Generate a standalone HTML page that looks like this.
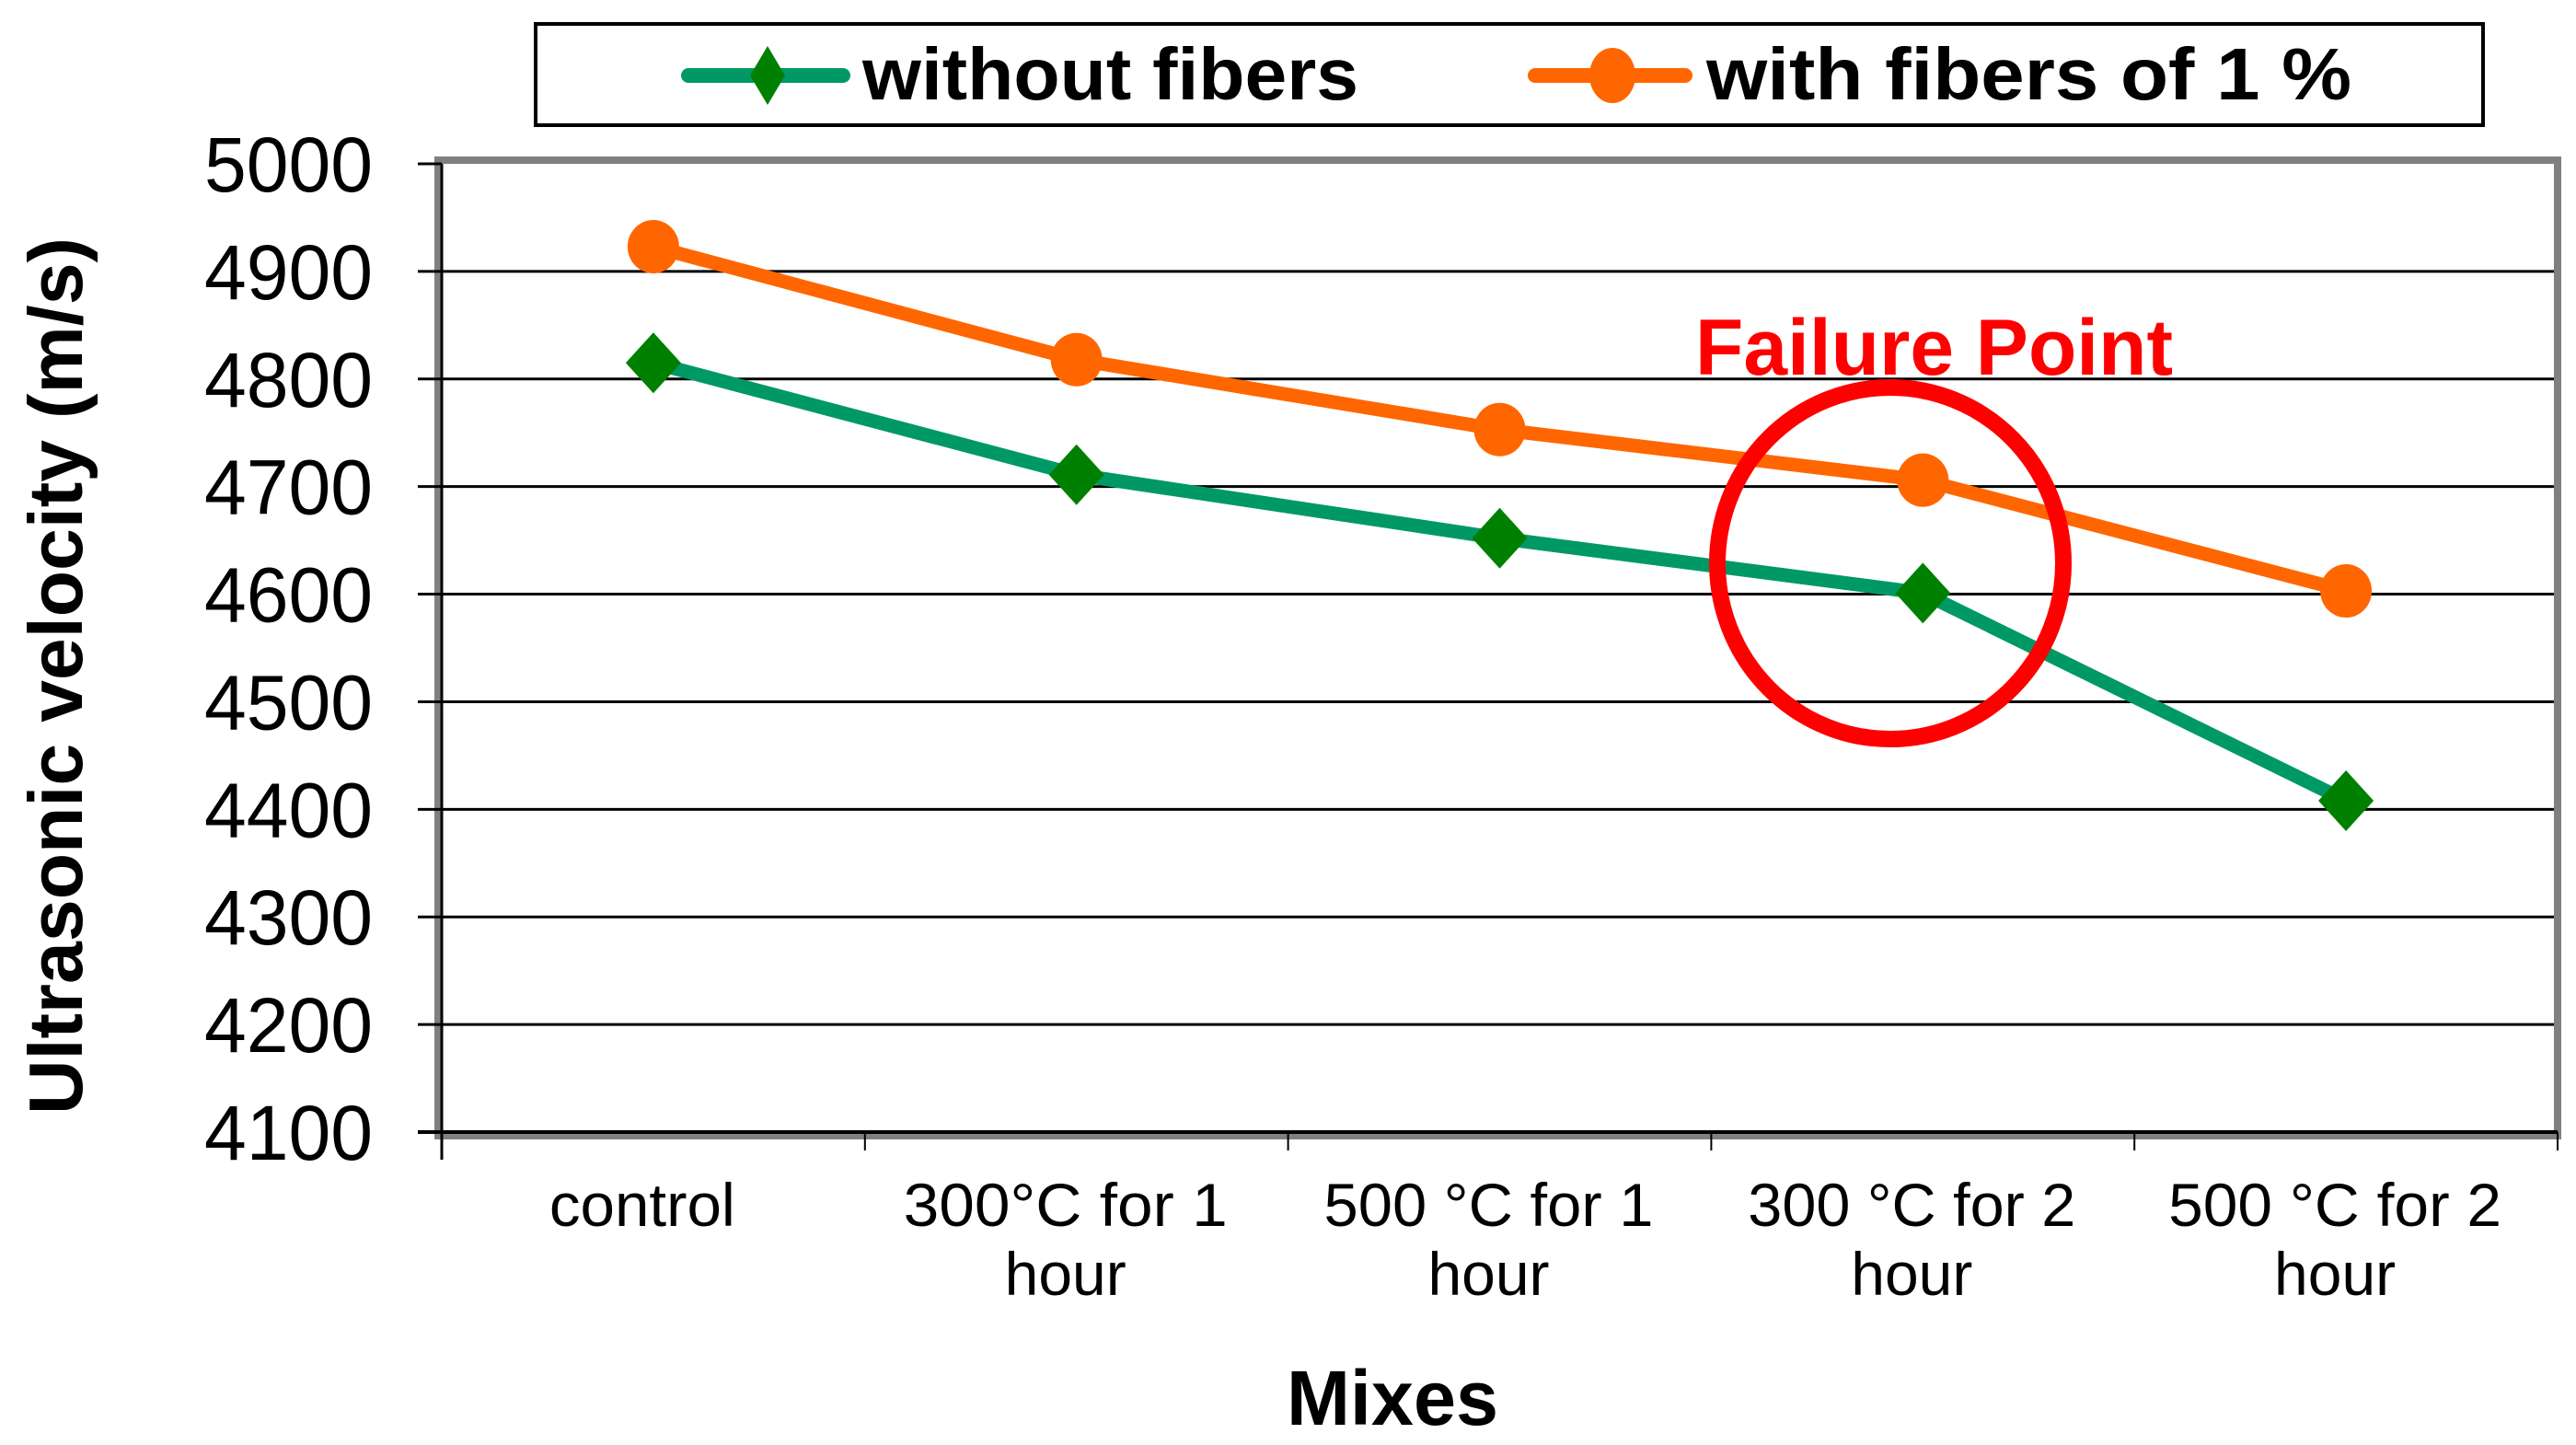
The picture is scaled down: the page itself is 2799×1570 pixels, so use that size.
<!DOCTYPE html>
<html><head><meta charset="utf-8"><style>
html,body{margin:0;padding:0;background:#fff;}
svg{display:block;}
text{font-family:"Liberation Sans",Arial,sans-serif;}
</style></head><body>
<svg id="chart" width="2799" height="1570" viewBox="0 0 2799 1570" xmlns="http://www.w3.org/2000/svg">
<rect x="0" y="0" width="2799" height="1570" fill="#fff"/>
<g id="grid"></g>
<g id="frame"></g>
<g id="yaxis"></g>
<g id="xaxis"></g>
<g id="series"></g>
<text x="0" y="0" transform="translate(89,1211) rotate(-90)" font-size="83" font-weight="bold" textLength="953" lengthAdjust="spacingAndGlyphs">Ultrasonic velocity (m/s)</text>
<text x="1513" y="1548" text-anchor="middle" font-size="84" font-weight="bold" textLength="230" lengthAdjust="spacingAndGlyphs">Mixes</text>
<g>
<rect x="582" y="26" width="2116" height="110" fill="#fff" stroke="#000" stroke-width="4"/>
<g>
<line x1="748" y1="82" x2="916" y2="82" stroke="#009966" stroke-width="16" stroke-linecap="round"/>
<polygon points="834,50 853,82 834,114 815,82" fill="#008000"/>
<text x="937" y="108" font-size="80" font-weight="bold" textLength="539" lengthAdjust="spacingAndGlyphs">without fibers</text>
</g>
<g>
<line x1="1668" y1="82" x2="1831" y2="82" stroke="#FF6600" stroke-width="16" stroke-linecap="round"/>
<ellipse cx="1752" cy="82" rx="25" ry="30" fill="#FF6600"/>
<text x="1854" y="108" font-size="80" font-weight="bold" textLength="701" lengthAdjust="spacingAndGlyphs">with fibers  of 1 %</text>
</g>
</g>
<g>
<ellipse cx="2054" cy="612" rx="188" ry="191" fill="none" stroke="#FF0000" stroke-width="18"/>
<text x="1842" y="407" font-size="86" font-weight="bold" fill="#FF0000" textLength="519" lengthAdjust="spacingAndGlyphs">Failure Point</text>
</g>
</svg>
<script>
const categories = [["control"],["300°C  for 1","hour"],["500 °C  for 1","hour"],["300 °C for 2","hour"],["500 °C  for 2","hour"]];
const withoutFibers = [4815, 4711, 4652, 4601, 4408];
const withFibers = [4923, 4818, 4753, 4706, 4603];
const yTicks = [4100,4200,4300,4400,4500,4600,4700,4800,4900,5000];
const labelWidths = [202, 352, 358, 356, 362];

const NS = "http://www.w3.org/2000/svg";
const X0 = 480, X1 = 2779, Y0 = 1230, Y1 = 178, YMIN = 4100, YMAX = 5000;
const band = (X1 - X0) / categories.length;
function xPos(i){ return X0 + band * (i + 0.5); }
function yPos(v){ return Y0 - (v - YMIN) / (YMAX - YMIN) * (Y0 - Y1); }
function mk(tag, attrs, parent){ const e = document.createElementNS(NS, tag); for (const k in attrs) e.setAttribute(k, attrs[k]); parent.appendChild(e); return e; }

const grid = document.getElementById('grid');
const yaxis = document.getElementById('yaxis');
yTicks.forEach(t => {
  const y = yPos(t);
  if (t !== YMIN && t !== YMAX) {
    const g = mk('line', {x1: X0, x2: X1, y1: y, y2: y, stroke: '#000', 'stroke-width': 3}, grid);
    
    
  }
  const tk = mk('line', {x1: 454, x2: X0, y1: y, y2: y, stroke: '#000', 'stroke-width': 3}, yaxis);
  
  
  const lb = mk('text', {x: 405, y: y + 30, 'text-anchor': 'end', 'font-size': 84, textLength: 183, lengthAdjust: 'spacingAndGlyphs'}, yaxis);
  lb.textContent = t;
  
  
});

const frame = document.getElementById('frame');
const fr = mk('rect', {x: X0 - 4, y: Y1 - 4, width: X1 - X0 + 4, height: Y0 - Y1 + 8, fill: 'none', stroke: '#808080', 'stroke-width': 8}, frame);


const la = mk('line', {x1: X0, x2: X0, y1: Y1, y2: Y0 + 30, stroke: '#000', 'stroke-width': 3}, frame);


const ba = mk('line', {x1: 454, x2: X1, y1: Y0, y2: Y0, stroke: '#000', 'stroke-width': 4}, frame);



const xaxis = document.getElementById('xaxis');
for (let i = 0; i <= categories.length; i++) {
  const x = X0 + band * i;
  const tk = mk('line', {x1: x, x2: x, y1: Y0, y2: Y0 + 20, stroke: '#000', 'stroke-width': 2}, xaxis);
  
  
}
categories.forEach((c, i) => {
  const x = xPos(i) - 12;
  c.forEach((line, j) => {
    const t = mk('text', {x: x, y: 1332 + j * 75, 'text-anchor': 'middle', 'font-size': 66}, xaxis);
    if (j === 0) { t.setAttribute('textLength', labelWidths[i]); t.setAttribute('lengthAdjust', 'spacingAndGlyphs'); }
    t.textContent = line;
    
    
  });
});

const series = document.getElementById('series');
function drawSeries(vals, color, name, marker){
  const pts = vals.map((v, i) => xPos(i) + ',' + yPos(v)).join(' ');
  const pl = mk('polyline', {points: pts, fill: 'none', stroke: color, 'stroke-width': 15, 'stroke-linejoin': 'round'}, series);
  
  
  vals.forEach((v, i) => {
    const x = xPos(i), y = yPos(v);
    let m;
    if (marker === 'diamond') {
      m = mk('polygon', {points: `${x},${y-33} ${x+30},${y} ${x},${y+33} ${x-30},${y}`, fill: '#008000'}, series);
    } else {
      m = mk('ellipse', {cx: x, cy: y, rx: 28, ry: 29, fill: color}, series);
    }
    
    
  });
}
drawSeries(withoutFibers, '#009966', 'without-fibers', 'diamond');
drawSeries(withFibers, '#FF6600', 'with-fibers', 'circle');
</script>
</body></html>
